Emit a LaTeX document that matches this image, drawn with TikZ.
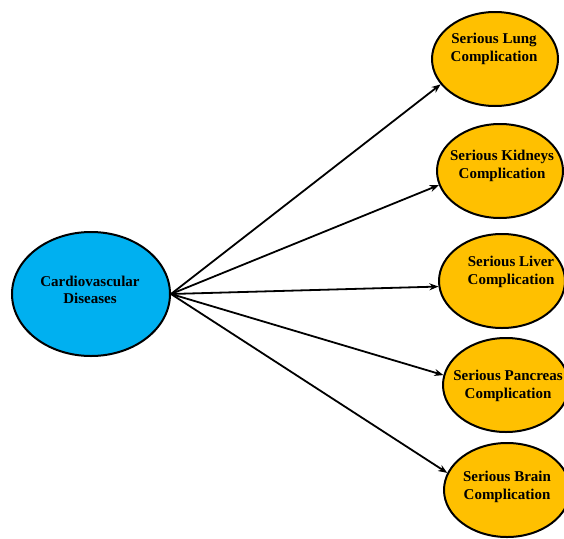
\documentclass[tikz,border=0pt]{standalone}
\usepackage{fontspec}
\setmainfont{Liberation Serif}
\usetikzlibrary{shapes.geometric,arrows.meta}
\definecolor{cvdblue}{HTML}{00B0F0}
\definecolor{compgold}{HTML}{FFC000}
\begin{document}
\begin{tikzpicture}[x=1pt,y=-1pt,
  blob/.style={ellipse,draw=black,line width=2pt,inner sep=0pt},
  cause/.style={blob,fill=cvdblue,minimum width=158pt,minimum height=124pt},
  effect/.style={blob,fill=compgold,minimum width=126pt,minimum height=94pt},
  caption/.style={align=center,inner sep=0pt,font=\fontsize{15}{17.5}\selectfont\bfseries},
  link/.style={line width=1.8pt,-{Stealth[length=9pt,width=7pt]}}]
\useasboundingbox (0,0) rectangle (564,538);
% ellipses
\node[cause] (cvd) at (91,294) {};
\node[effect] (lung) at (495,59) {};
\node[effect] (kid) at (500,171) {};
\node[effect] (liv) at (502,281) {};
\node[effect] (pan) at (506,385) {};
\node[effect] (brn) at (507,490) {};
% labels
\node[caption] (cvdtxt) at (90,290) {Cardiovascular\\Diseases};
\node[caption] (lungtxt) at (494,49) {Serious Lung\\Complication};
\node[caption] (kidtxt) at (502,166) {Serious Kidneys\\Complication};
\node[caption] (livtxt) at (511,272) {Serious Liver\\Complication};
\node[caption] (pantxt) at (508,386) {Serious Pancreas\\Complication};
\node[caption] (brntxt) at (507,487) {Serious Brain\\Complication};
% connectors
\draw[link] (cvd.east) -- (lung.205);
\draw[link] (cvd.east) -- (kid.193);
\draw[link] (cvd.east) -- (liv.185);
\draw[link] (cvd.east) -- (pan.171);
\draw[link] (cvd.east) -- (brn.164);
\end{tikzpicture}
\end{document}
